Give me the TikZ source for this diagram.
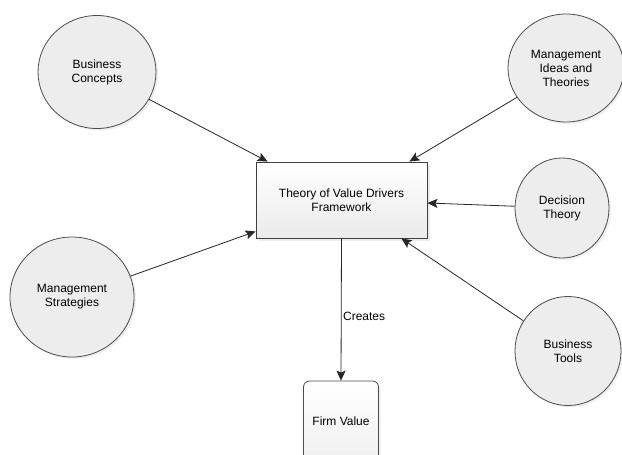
\documentclass[tikz,border=0pt]{standalone}
\usepackage{fontspec}
\setmainfont{Liberation Sans}
\usetikzlibrary{arrows.meta,positioning,shapes.geometric,shadows}

\begin{document}
\begin{tikzpicture}[
  x=1pt, y=-1pt,
  font=\fontsize{12}{14}\selectfont,
  >={Stealth[length=10pt,width=9pt,inset=2pt]},
  ideanode/.style={
    ellipse, inner sep=0pt, align=center,
    draw=black!70, fill=black!7, line width=0.8pt,
    drop shadow={opacity=0.12, shadow xshift=2pt, shadow yshift=-2pt}
  },
  framebox/.style={
    rectangle, align=center,
    minimum width=171pt, minimum height=76pt,
    draw=black!75, line width=0.9pt,
    top color=white, bottom color=black!8,
    drop shadow={opacity=0.15, shadow xshift=3pt, shadow yshift=-3pt}
  },
  valuebox/.style={
    rectangle, rounded corners=6pt, align=center,
    minimum width=75pt, minimum height=80pt,
    draw=black!70, line width=0.8pt,
    top color=white, bottom color=black!6,
    drop shadow={opacity=0.12, shadow xshift=2pt, shadow yshift=-2pt}
  },
  feed/.style={
    ->, draw=black!85, line width=0.8pt
  }
]

% Page frame
\clip (0,0) rectangle (622,455);
\fill[white] (0,0) rectangle (622,455);

% Framework in the middle
\node[framebox] (frame) at (341.5,200) {Theory of Value Drivers\\Framework};

% Inputs to the framework
\node[ideanode, minimum width=118pt, minimum height=113pt] (concepts) at (97,72) {Business\\Concepts};
\node[ideanode, minimum width=116pt, minimum height=108pt] (ideas) at (566,68) {Management\\Ideas and\\Theories};
\node[ideanode, minimum width=94pt, minimum height=100pt] (decision) at (562,208) {Decision\\Theory};
\node[ideanode, minimum width=106pt, minimum height=109pt] (tools) at (568,351) {Business\\Tools};
\node[ideanode, minimum width=124pt, minimum height=120pt] (strategies) at (72,297) {Management\\Strategies};

% Output
\node[valuebox] (firm) at (341,421) {Firm Value};

% Connectors
\draw[feed] (concepts) -- ([xshift=12pt]frame.north west);
\draw[feed] (ideas) -- ([xshift=-18pt]frame.north east);
\draw[feed] (decision) -- ([yshift=-3pt]frame.east);
\draw[feed] (tools) -- ([xshift=-26pt]frame.south east);
\draw[feed] (strategies) -- ([yshift=7pt]frame.south west);
\draw[feed] (frame.south) -- node[pos=0.55, right, inner sep=1.5pt] {Creates} (firm.north);

\end{tikzpicture}
\end{document}
